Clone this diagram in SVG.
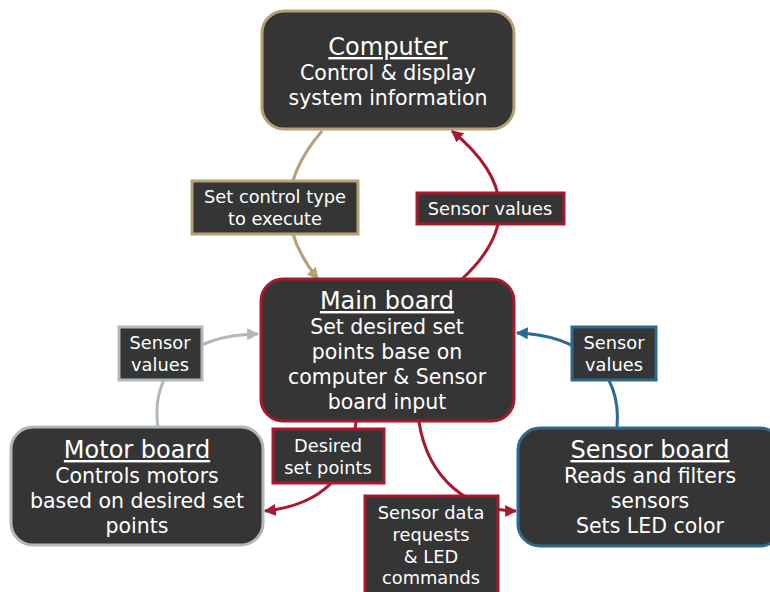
<svg xmlns="http://www.w3.org/2000/svg" width="770" height="592" viewBox="0 0 770 592">
<style>
.node{fill:#353535;stroke-width:3}
.lbl{fill:#353535;stroke-width:3}
text{font-family:"DejaVu Sans","Verdana",sans-serif;fill:#ffffff;text-anchor:middle}
.t{font-size:24px;text-decoration:underline}
.b{font-size:20.5px}
.s{font-size:17.8px}
.c{fill:none;stroke-width:3}
</style>
<defs>
<marker id="aTan" viewBox="0 0 10 10" refX="9" refY="5" markerWidth="4" markerHeight="4" orient="auto"><path d="M0,0 L10,5 L0,10 Z" fill="#b5a07a"/></marker>
<marker id="aRed" viewBox="0 0 10 10" refX="9" refY="5" markerWidth="4" markerHeight="4" orient="auto"><path d="M0,0 L10,5 L0,10 Z" fill="#a8192e"/></marker>
<marker id="aGray" viewBox="0 0 10 10" refX="9" refY="5" markerWidth="4" markerHeight="4" orient="auto"><path d="M0,0 L10,5 L0,10 Z" fill="#b0b8bd"/></marker>
<marker id="aBlue" viewBox="0 0 10 10" refX="9" refY="5" markerWidth="4" markerHeight="4" orient="auto"><path d="M0,0 L10,5 L0,10 Z" fill="#2d6a8f"/></marker>
</defs>
<g id="connectors">
<path class="c" stroke="#b5a07a" d="M322,131 Q258,205 318,279" marker-end="url(#aTan)"/>
<path class="c" stroke="#a8192e" d="M462,279 Q542,205 452,131" marker-end="url(#aRed)"/>
<path class="c" stroke="#b0b8bd" d="M158,427 C150,370 190,335 258,334" marker-end="url(#aGray)"/>
<path class="c" stroke="#2d6a8f" d="M617,427 C622,370 580,335 517,333" marker-end="url(#aBlue)"/>
<path class="c" stroke="#a8192e" d="M356,421 Q350,502 265,511" marker-end="url(#aRed)"/>
<path class="c" stroke="#a8192e" d="M419,422 C428,480 470,511 516,511" marker-end="url(#aRed)"/>
</g>
<g id="computer">
<rect class="node" x="262" y="11" width="252" height="118" rx="22" stroke="#b5a07a"/>
<text class="t" x="388" y="55">Computer</text>
<text class="b" x="388" y="80">Control &amp; display</text>
<text class="b" x="388" y="105">system information</text>
</g>
<g id="main-board">
<rect class="node" x="261" y="279" width="253" height="142" rx="22" stroke="#a8192e"/>
<text class="t" x="387" y="309">Main board</text>
<text class="b" x="387" y="334">Set desired set</text>
<text class="b" x="387" y="359">points base on</text>
<text class="b" x="387" y="384">computer &amp; Sensor</text>
<text class="b" x="387" y="409">board input</text>
</g>
<g id="motor-board">
<rect class="node" x="11" y="427" width="252" height="118" rx="22" stroke="#b0b8bd"/>
<text class="t" x="137" y="458">Motor board</text>
<text class="b" x="137" y="483">Controls motors</text>
<text class="b" x="137" y="508">based on desired set</text>
<text class="b" x="137" y="533">points</text>
</g>
<g id="sensor-board">
<rect class="node" x="518" y="428" width="264" height="118" rx="22" stroke="#2d6a8f"/>
<text class="t" x="650" y="458">Sensor board</text>
<text class="b" x="650" y="483">Reads and filters</text>
<text class="b" x="650" y="508">sensors</text>
<text class="b" x="650" y="533">Sets LED color</text>
</g>
<g id="label-set-control">
<rect class="lbl" x="192" y="181" width="166" height="53" stroke="#b5a07a"/>
<text class="s" x="275" y="203">Set control type</text>
<text class="s" x="275" y="225">to execute</text>
</g>
<g id="label-sensor-values-top">
<rect class="lbl" x="417" y="193" width="147" height="31" stroke="#a8192e"/>
<text class="s" x="490" y="215">Sensor values</text>
</g>
<g id="label-sensor-values-left">
<rect class="lbl" x="119" y="327" width="83" height="53" stroke="#b0b8bd"/>
<text class="s" x="160" y="349">Sensor</text>
<text class="s" x="160" y="371">values</text>
</g>
<g id="label-sensor-values-right">
<rect class="lbl" x="572" y="327" width="84" height="53" stroke="#2d6a8f"/>
<text class="s" x="614" y="349">Sensor</text>
<text class="s" x="614" y="371">values</text>
</g>
<g id="label-desired">
<rect class="lbl" x="273" y="429" width="111" height="54" stroke="#a8192e"/>
<text class="s" x="328" y="452">Desired</text>
<text class="s" x="328" y="474">set points</text>
</g>
<g id="label-sensor-data">
<rect class="lbl" x="365" y="496" width="133" height="100" stroke="#a8192e"/>
<text class="s" x="431" y="519">Sensor data</text>
<text class="s" x="431" y="541">requests</text>
<text class="s" x="431" y="563">&amp; LED</text>
<text class="s" x="431" y="584">commands</text>
</g>
</svg>
